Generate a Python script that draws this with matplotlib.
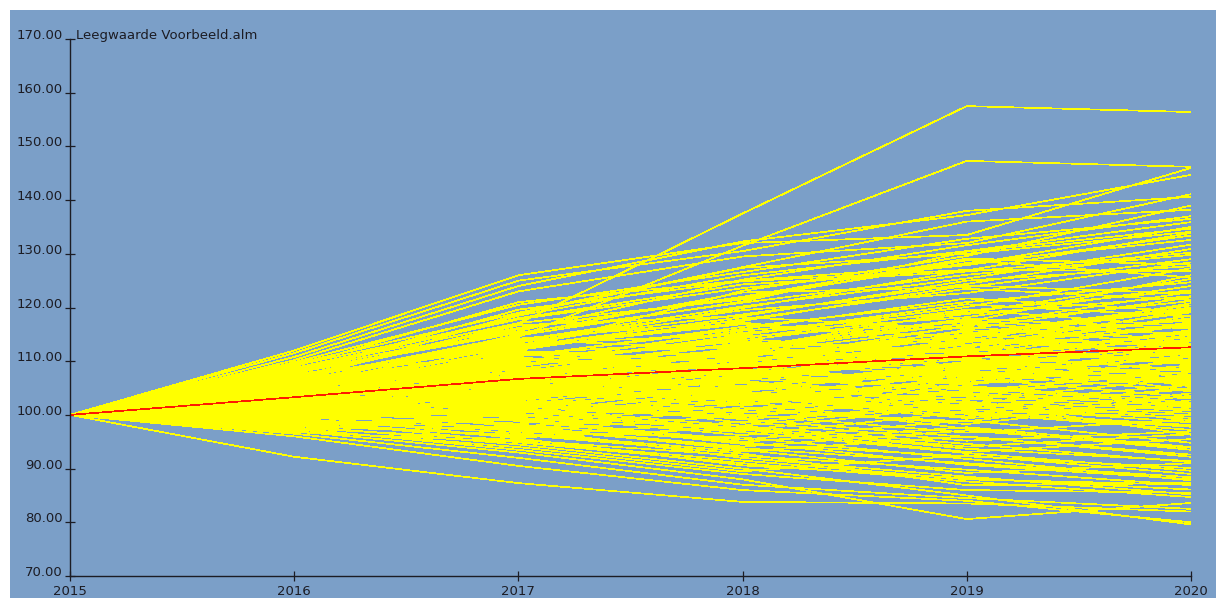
"""Fan chart of the simulated liquidation value per scenario."""

import matplotlib
matplotlib.use('Agg')
from matplotlib import pyplot
from matplotlib.patches import Rectangle

years = [2015, 2016, 2017, 2018, 2019, 2020]
start_value = 100.0
y_ticks = [70, 80, 90, 100, 110, 120, 130, 140, 150, 160, 170]
title = 'Leegwaarde Voorbeeld.alm'

# Average over all scenarios.
mean_path = [100.0, 103.3, 106.7, 108.7, 110.9, 112.6]

# Scenario values for 2016..2020 (all start at 100 in 2015).
scenarios = [
    [112.0, 126.0, 132.0, 133.5, 146.0],
    [111.5, 125.0, 130.5, 138.0, 140.6],
    [110.8, 124.0, 132.3, 137.2, 144.7],
    [110.2, 123.0, 129.5, 132.0, 141.1],
    [107.0, 117.0, 137.5, 157.5, 156.4],
    [106.0, 114.5, 131.5, 147.3, 146.2],
    [109.5, 119.0, 127.5, 136.0, 138.2],
    [108.0, 118.5, 126.0, 130.5, 135.9],
    [109.0, 121.0, 125.0, 128.0, 135.0],
    [92.2, 87.3, 83.8, 83.5, 82.0],
    [97.0, 93.0, 88.0, 80.6, 83.6],
    [98.0, 94.5, 90.0, 85.0, 79.6],
    [96.0, 90.5, 86.0, 84.0, 80.0],
    [96.5, 92.0, 87.0, 84.5, 82.5],
    [97.5, 93.5, 89.0, 86.0, 85.5],
    [96.8, 95.0, 91.5, 88.0, 87.0],
    [103.5, 108.2, 112.0, 110.5, 115.3],
    [101.2, 104.0, 103.1, 107.8, 106.2],
    [105.8, 110.9, 116.4, 121.0, 124.7],
    [99.4, 101.7, 99.8, 104.2, 108.9],
    [104.1, 106.3, 111.8, 109.0, 112.4],
    [102.7, 99.5, 103.6, 100.2, 97.8],
    [106.4, 113.2, 115.0, 120.6, 118.3],
    [100.8, 103.9, 108.7, 113.5, 119.1],
    [103.0, 107.5, 105.2, 109.9, 104.6],
    [98.6, 97.2, 101.4, 98.3, 102.7],
    [105.2, 109.0, 114.6, 117.3, 126.0],
    [101.9, 106.8, 104.0, 100.9, 99.5],
    [104.7, 111.4, 113.9, 118.8, 122.1],
    [102.2, 103.4, 107.9, 111.0, 108.4],
    [99.9, 104.5, 109.1, 105.6, 110.3],
    [107.3, 112.7, 118.2, 116.0, 121.9],
    [103.8, 102.1, 99.6, 103.7, 101.0],
    [100.3, 98.9, 95.4, 99.0, 94.8],
    [106.0, 110.2, 109.3, 114.7, 117.6],
    [102.5, 107.0, 112.3, 119.4, 123.2],
    [104.4, 105.1, 108.0, 106.3, 112.9],
    [101.0, 100.4, 104.8, 108.1, 113.7],
    [105.5, 112.1, 117.8, 123.5, 121.4],
    [98.9, 102.6, 100.1, 96.7, 99.2],
    [103.2, 108.9, 106.5, 111.8, 116.7],
    [104.9, 103.7, 107.2, 104.9, 103.1],
    [100.5, 105.6, 111.0, 114.2, 111.6],
    [107.8, 115.3, 120.9, 126.1, 129.8],
    [102.0, 101.3, 97.9, 94.6, 91.2],
    [105.0, 108.5, 113.4, 112.0, 118.5],
    [99.2, 100.9, 106.1, 103.8, 107.4],
    [103.6, 110.4, 108.6, 113.1, 109.7],
    [101.6, 97.8, 101.0, 105.4, 102.3],
    [106.7, 109.8, 115.7, 119.0, 125.3],
    [102.9, 106.1, 102.4, 107.0, 111.1],
    [104.2, 109.6, 110.9, 108.2, 106.0],
    [100.1, 102.8, 107.4, 112.7, 117.0],
    [105.9, 107.7, 104.3, 109.5, 113.8],
    [98.3, 96.1, 98.7, 95.2, 96.9],
    [103.1, 105.4, 109.7, 115.8, 114.2],
    [101.4, 104.7, 103.5, 99.7, 104.0],
    [104.6, 112.5, 116.9, 114.4, 119.7],
    [102.4, 100.0, 96.2, 100.6, 98.1],
    [106.2, 111.7, 109.8, 115.1, 120.4],
    [99.7, 103.2, 106.9, 110.4, 107.5],
    [103.9, 106.6, 112.7, 117.9, 116.1],
    [100.7, 99.1, 102.5, 97.4, 93.5],
    [105.3, 113.8, 119.5, 122.7, 128.4],
    [102.1, 104.2, 101.7, 106.5, 110.0],
    [104.0, 107.9, 105.9, 102.2, 100.4],
    [101.8, 106.3, 110.4, 107.6, 112.2],
    [107.0, 114.0, 112.2, 117.6, 114.9],
    [99.0, 97.6, 93.8, 91.0, 88.4],
    [103.4, 109.1, 114.9, 120.1, 127.3],
    [100.9, 102.0, 105.5, 102.8, 106.8],
    [105.7, 108.0, 111.5, 116.4, 113.0],
    [102.6, 105.0, 100.4, 104.5, 108.0],
    [104.8, 110.6, 107.1, 111.3, 105.3],
    [101.3, 99.8, 103.9, 107.3, 110.8],
    [106.5, 112.9, 117.2, 112.9, 117.9],
    [97.9, 100.2, 97.1, 101.9, 99.9],
    [103.7, 104.8, 109.2, 113.8, 120.8],
    [100.4, 103.0, 99.2, 95.9, 92.6],
    [105.1, 111.0, 116.0, 121.7, 119.2],
    [102.3, 108.0, 113.3, 110.8, 115.6],
    [104.3, 102.9, 106.4, 101.5, 104.8],
    [99.5, 98.4, 102.0, 106.9, 103.3],
    [108.3, 116.2, 121.8, 128.3, 132.6],
    [101.7, 103.6, 98.5, 102.6, 96.3],
    [103.3, 107.2, 111.6, 109.1, 113.1],
    [100.0, 101.5, 105.0, 109.6, 114.9],
    [106.9, 109.4, 114.1, 111.7, 116.8],
    [102.8, 104.6, 108.3, 104.0, 101.7],
    [104.5, 111.9, 110.0, 116.6, 122.9],
    [98.1, 99.3, 95.0, 97.7, 94.0],
    [105.4, 106.9, 112.5, 110.1, 107.1],
    [101.1, 105.3, 102.6, 108.6, 112.7],
    [103.9, 109.9, 115.3, 118.2, 124.0],
    [100.6, 97.0, 99.9, 103.0, 100.8],
    [107.5, 111.3, 108.8, 113.9, 111.5],
    [102.0, 106.5, 110.8, 115.5, 110.6],
    [104.0, 101.8, 104.6, 108.9, 105.7],
    [99.6, 103.8, 108.4, 106.0, 109.2],
    [106.1, 113.5, 118.7, 124.4, 130.9],
    [101.5, 100.7, 97.3, 93.1, 95.5],
    [103.0, 106.0, 103.3, 107.9, 104.4],
    [105.6, 110.7, 108.1, 112.6, 119.5],
    [100.2, 104.1, 107.7, 104.6, 101.4],
    [104.7, 107.4, 112.0, 117.0, 121.2],
    [102.7, 101.0, 105.3, 101.1, 105.0],
    [97.6, 95.3, 92.4, 89.8, 86.9],
    [98.4, 99.0, 94.6, 92.3, 90.1],
    [99.3, 96.6, 93.2, 96.0, 92.2],
    [101.9, 98.2, 94.9, 90.7, 88.0],
    [100.4, 97.4, 92.0, 88.5, 85.2],
    [102.6, 99.4, 96.8, 92.9, 89.6],
    [98.8, 95.8, 97.6, 93.7, 91.4],
    [101.2, 98.0, 93.5, 89.2, 91.0],
    [99.1, 94.9, 91.0, 87.6, 84.7],
    [100.9, 96.9, 95.8, 91.8, 87.8],
    [103.4, 100.8, 97.5, 94.1, 96.4],
    [97.3, 94.0, 89.5, 92.5, 89.0],
    [102.2, 97.7, 94.1, 97.1, 93.9],
    [98.0, 96.3, 92.8, 86.9, 87.3],
    [100.0, 95.6, 90.6, 88.2, 86.1],
    [108.7, 117.8, 123.6, 127.9, 133.4],
    [107.2, 116.0, 122.0, 129.1, 128.0],
    [109.2, 118.0, 124.3, 126.7, 130.2],
    [106.6, 114.8, 121.1, 130.4, 134.7],
    [108.0, 115.6, 125.2, 131.6, 137.0],
    [107.9, 119.6, 124.9, 127.0, 126.8],
    [106.3, 113.9, 120.2, 125.4, 131.7],
    [105.4, 115.0, 122.8, 123.8, 129.0],
    [109.8, 120.5, 126.6, 132.8, 136.5],
    [108.5, 117.1, 121.5, 128.8, 125.6],
    [104.9, 113.0, 119.9, 126.9, 133.9],
    [106.8, 116.7, 118.4, 125.0, 127.7],
    [107.6, 112.3, 123.1, 129.6, 139.0],
    [105.0, 114.2, 117.5, 124.1, 122.6],
    [106.0, 118.8, 127.4, 130.0, 134.1],
    [102.9, 105.9, 109.5, 112.3, 109.9],
    [104.2, 108.7, 107.6, 110.7, 114.5],
    [101.3, 102.3, 106.7, 105.1, 101.9],
    [103.6, 104.3, 102.8, 106.8, 111.8],
    [105.9, 110.1, 113.7, 111.4, 114.0],
    [100.8, 106.4, 104.5, 109.3, 106.5],
    [102.5, 103.1, 107.0, 110.9, 117.3],
    [104.4, 106.7, 110.6, 106.6, 108.6],
    [99.8, 101.1, 98.0, 102.1, 105.6],
    [106.4, 108.4, 106.8, 111.6, 110.2],
    [101.6, 107.3, 111.3, 113.0, 118.0],
    [103.1, 102.5, 100.7, 98.8, 103.6],
    [105.0, 109.3, 114.3, 119.6, 116.4],
    [102.1, 105.7, 101.9, 105.8, 107.9],
    [104.8, 104.4, 108.2, 112.5, 109.4],
    [100.3, 104.9, 109.9, 107.1, 111.9],
    [103.5, 111.1, 112.8, 116.9, 115.0],
    [101.0, 99.6, 102.9, 99.4, 102.0],
    [106.3, 107.8, 111.2, 114.8, 120.0],
    [102.8, 103.3, 106.2, 103.4, 99.0],
    [99.5, 100.6, 104.1, 101.6, 98.6],
    [104.1, 108.1, 105.4, 108.4, 111.4],
    [102.3, 107.6, 109.0, 111.5, 108.1],
    [105.8, 106.2, 110.2, 115.0, 112.6],
    [100.5, 102.2, 100.9, 104.3, 107.0],
    [103.7, 105.8, 103.8, 100.4, 97.2],
    [101.9, 104.4, 108.9, 114.0, 113.3],
    [104.6, 110.0, 111.9, 110.3, 115.8],
    [102.4, 101.6, 99.3, 101.3, 100.0],
    [105.2, 108.6, 113.1, 108.7, 106.7],
]

background = '#7b9fc8'
ink = '#1c1c24'
W, H = 1216, 598

fig = pyplot.figure(figsize=(W / 100, H / 100), dpi=100, facecolor='white')
fig.add_artist(Rectangle((10 / W, 0), 1, (H - 10) / H, transform=fig.transFigure,
                         facecolor=background, edgecolor='none', zorder=-5))
ax = fig.add_axes([70 / W, 22 / H, 1121 / W, 537 / H])
ax.set_facecolor(background)

for row in scenarios:
    ax.plot(years, [start_value] + row, color='#ffff00', linewidth=0.5,
            antialiased=False, solid_capstyle='butt')
ax.plot(years, mean_path, color='#ff1a00', linewidth=0.5, antialiased=False)

ax.set_xlim(years[0], years[-1])
ax.set_ylim(y_ticks[0], y_ticks[-1])
ax.set_xticks(years)
ax.set_xticklabels([str(y) for y in years])
ax.set_yticks(y_ticks)
ax.set_yticklabels(['%.2f' % v for v in y_ticks])
ax.tick_params(direction='inout', length=7, width=0.9, colors=ink,
               labelsize=9.5)
ax.tick_params(axis='y', pad=1.5)
ax.tick_params(axis='x', pad=3)
pyplot.setp(ax.get_yticklabels(), va='baseline')

for side in ('top', 'right'):
    ax.spines[side].set_visible(False)
for side in ('left', 'bottom'):
    ax.spines[side].set_color(ink)
    ax.spines[side].set_linewidth(1.0)

ax.text(years[0] + 0.027, y_ticks[-1], title, ha='left', va='baseline',
        fontsize=9.5, color=ink, clip_on=False)

fig.savefig('out.png', dpi=100, facecolor='white')
